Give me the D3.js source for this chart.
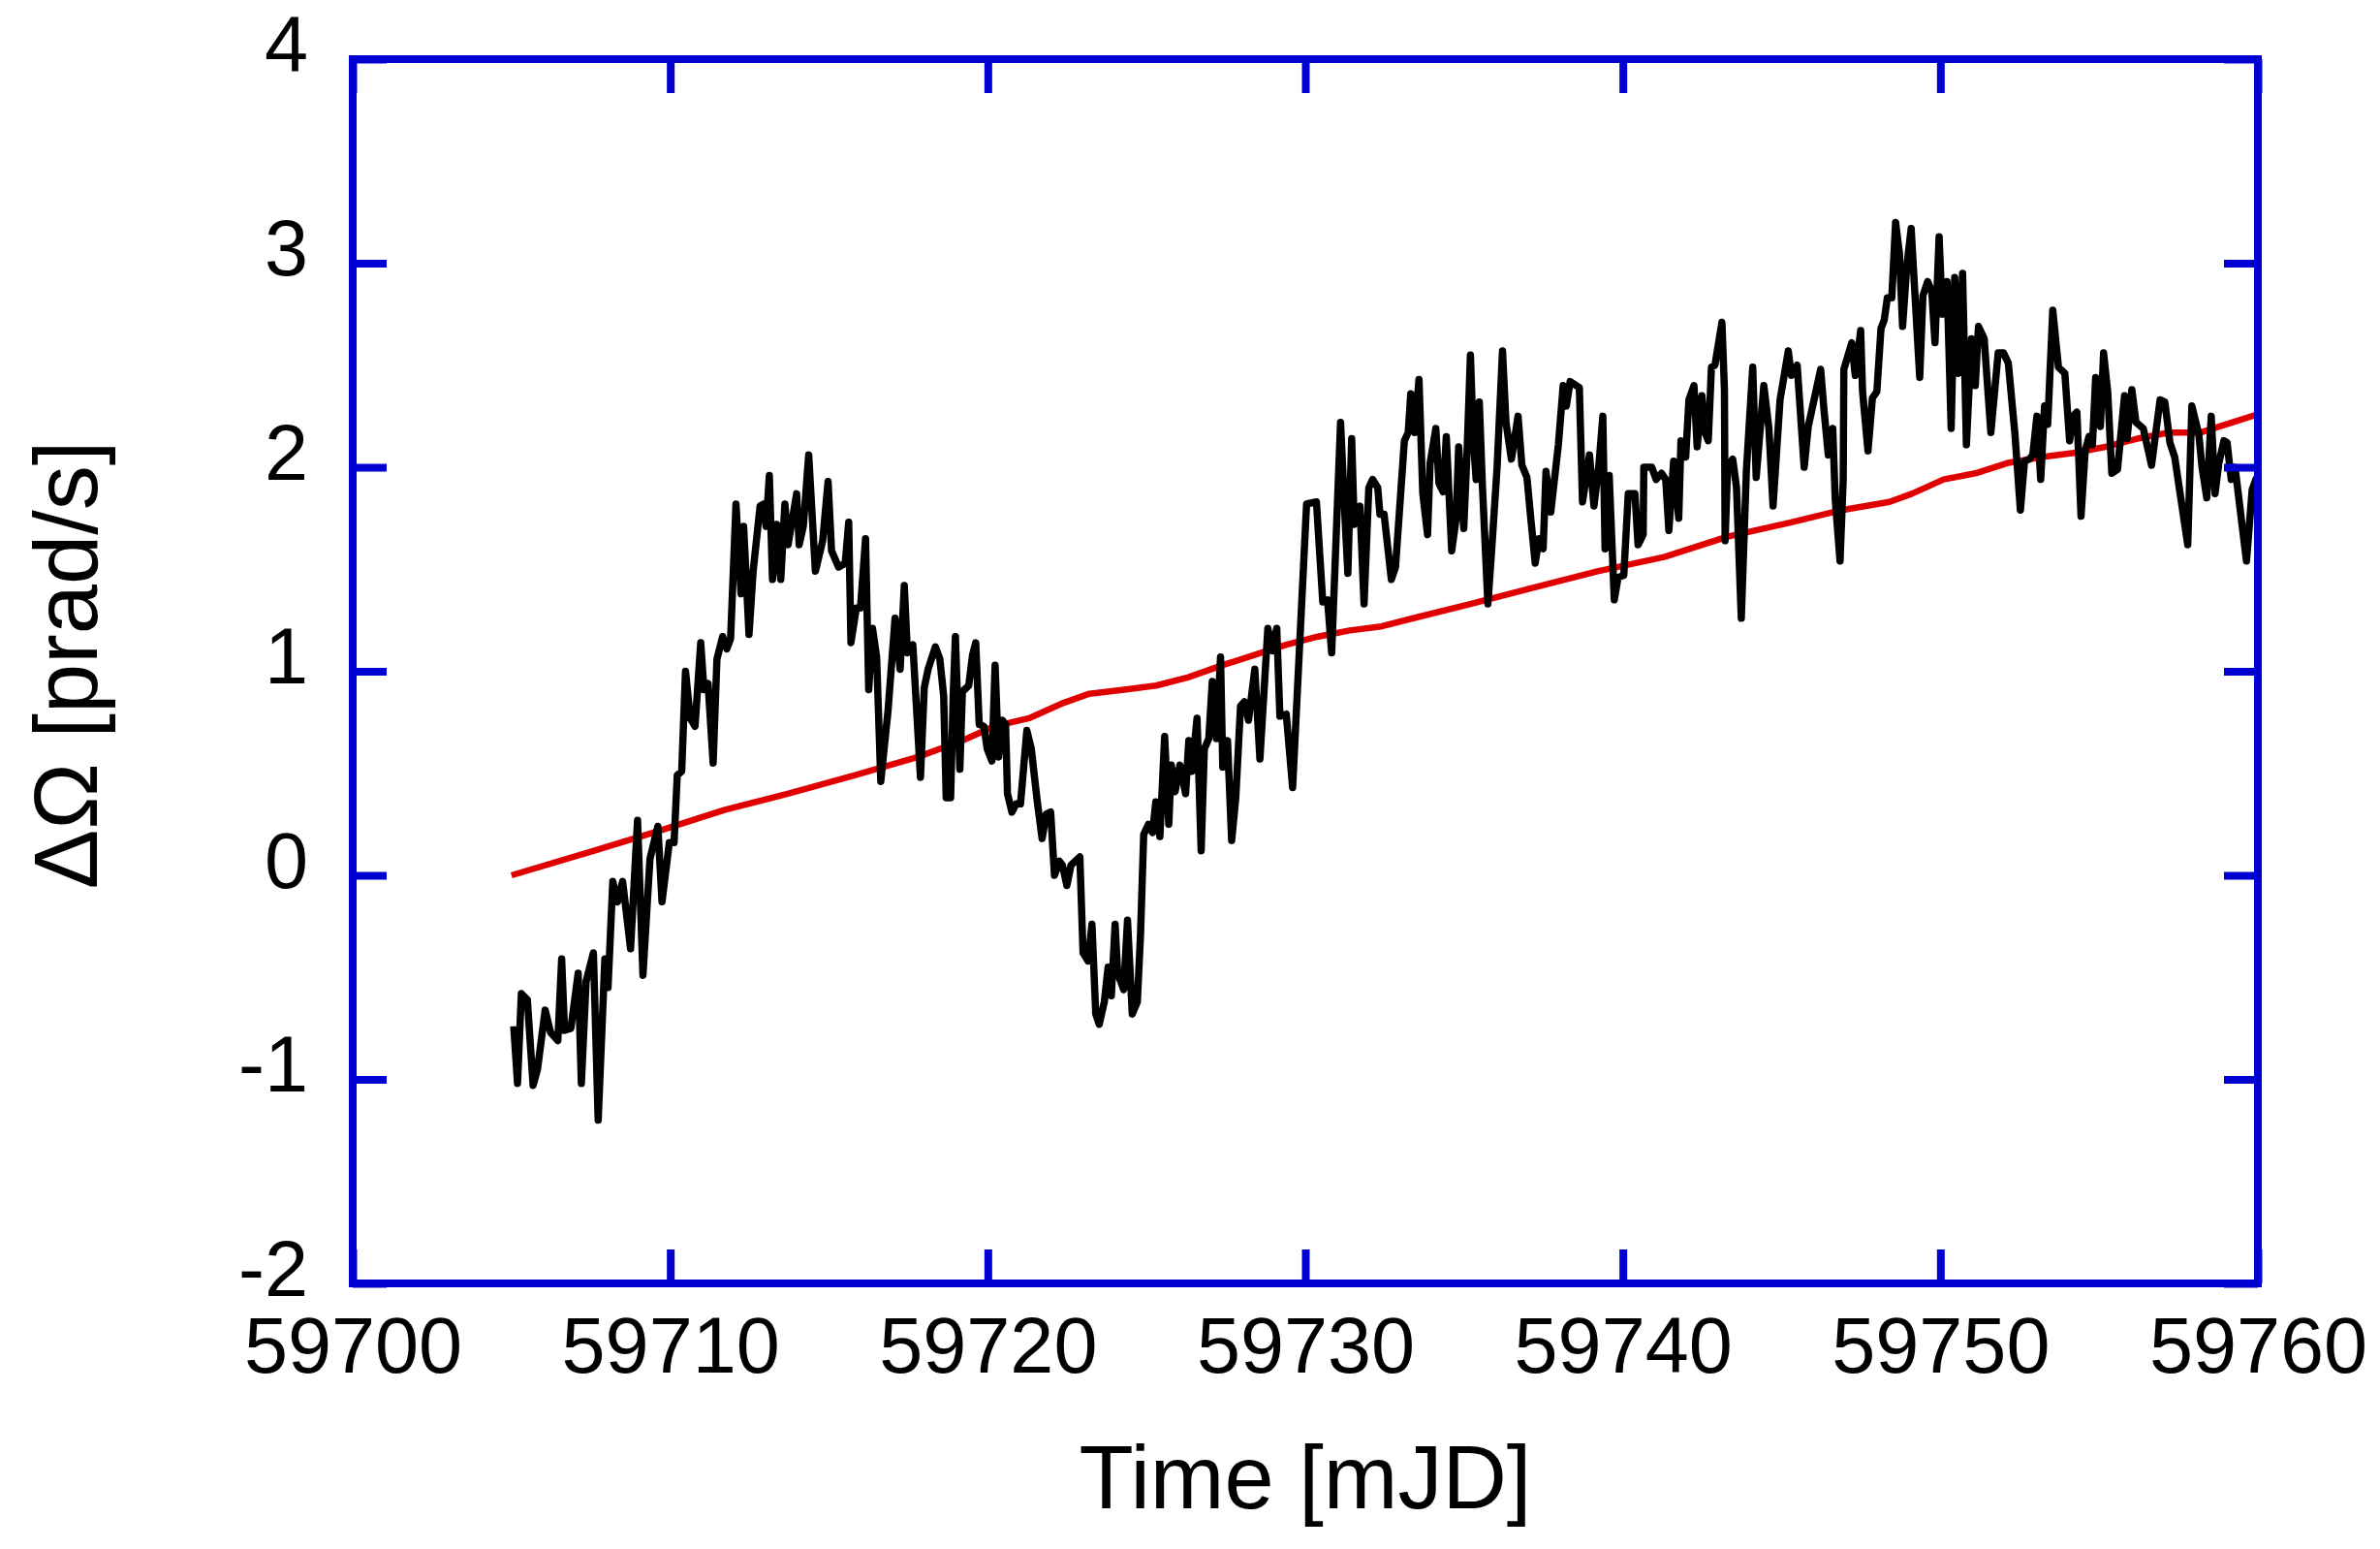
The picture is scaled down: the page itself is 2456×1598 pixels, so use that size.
<!DOCTYPE html>
<html><head><meta charset="utf-8">
<script src="https://cdn.jsdelivr.net/npm/d3@7"></script>
<style>html,body{margin:0;padding:0;background:#fff;overflow:hidden;}</style>
</head><body>
<svg id="chart" width="2456" height="1598"></svg>
<script>
// ---------- data ----------
const blackTime = [
59705.07,59705.19,59705.31,59705.50,59705.68,59705.82,59706.06,59706.23,59706.46,59706.58,59706.67,59706.87,
59707.10,59707.20,59707.35,59707.58,59707.73,59707.94,59708.04,59708.19,59708.34,59708.50,59708.75,59708.97,
59709.14,59709.36,59709.61,59709.74,59709.97,59710.12,59710.22,59710.36,59710.48,59710.63,59710.78,59710.96,
59711.06,59711.19,59711.35,59711.47,59711.65,59711.78,59711.90,59712.07,59712.23,59712.31,59712.48,59712.61,
59712.83,59712.94,59713.02,59713.12,59713.22,59713.35,59713.48,59713.61,59713.71,59713.98,59714.06,59714.19,
59714.36,59714.57,59714.80,59714.97,59715.08,59715.30,59715.51,59715.62,59715.69,59715.86,59715.99,59716.15,
59716.25,59716.37,59716.50,59716.63,59716.86,59717.08,59717.24,59717.37,59717.47,59717.64,59717.88,59718.00,
59718.12,59718.35,59718.49,59718.61,59718.69,59718.83,59718.91,59718.98,59719.12,59719.20,59719.40,59719.52,
59719.62,59719.73,59719.88,59719.98,59720.13,59720.23,59720.34,59720.46,59720.56,59720.62,59720.76,59720.89,
59721.03,59721.23,59721.37,59721.56,59721.71,59721.84,59721.98,59722.10,59722.25,59722.35,59722.49,59722.62,
59722.90,59723.00,59723.16,59723.28,59723.33,59723.40,59723.51,59723.67,59723.79,59723.89,59724.01,59724.09,
59724.28,59724.40,59724.55,59724.71,59724.81,59724.91,59725.06,59725.19,59725.29,59725.42,59725.57,59725.70,
59725.78,59725.90,59726.05,59726.23,59726.33,59726.43,59726.59,59726.72,59726.82,59726.96,59727.07,59727.20,
59727.33,59727.40,59727.55,59727.68,59727.81,59727.96,59728.08,59728.21,59728.41,59728.57,59728.82,59728.97,
59729.10,59729.20,59729.40,59729.60,59730.04,59730.35,59730.55,59730.70,59730.83,59731.11,59731.26,59731.34,
59731.46,59731.54,59731.72,59731.85,59732.00,59732.12,59732.28,59732.35,59732.48,59732.71,59732.84,59733.12,
59733.24,59733.32,59733.44,59733.58,59733.70,59733.85,59733.93,59734.11,59734.21,59734.34,59734.44,59734.61,
59734.75,59734.83,59734.99,59735.09,59735.20,59735.29,59735.38,59735.48,59735.58,59735.75,59735.88,59736.04,
59736.21,59736.32,59736.49,59736.70,59736.82,59736.98,59737.10,59737.24,59737.36,59737.49,59737.58,59737.73,
59737.97,59738.12,59738.22,59738.34,59738.63,59738.73,59738.95,59739.09,59739.24,59739.37,59739.44,59739.57,
59739.73,59739.85,59740.03,59740.17,59740.38,59740.48,59740.64,59740.66,59740.91,59741.05,59741.22,59741.35,
59741.45,59741.60,59741.76,59741.83,59741.98,59742.08,59742.24,59742.34,59742.49,59742.59,59742.69,59742.79,
59742.90,59743.12,59743.20,59743.22,59743.30,59743.46,59743.58,59743.73,59743.89,59744.09,59744.20,59744.44,
59744.60,59744.73,59744.95,59745.21,59745.31,59745.49,59745.71,59745.84,59746.23,59746.33,59746.47,59746.61,
59746.69,59746.84,59746.94,59746.96,59747.21,59747.32,59747.49,59747.55,59747.72,59747.86,59748.00,59748.13,
59748.23,59748.33,59748.47,59748.59,59748.71,59748.81,59748.94,59749.08,59749.15,59749.35,59749.45,59749.60,
59749.73,59749.83,59749.96,59750.06,59750.21,59750.34,59750.45,59750.57,59750.70,59750.82,59750.98,59751.10,
59751.20,59751.38,59751.59,59751.82,59751.99,59752.14,59752.35,59752.52,59752.65,59752.80,59752.91,59753.04,
59753.16,59753.28,59753.38,59753.54,59753.72,59753.92,59754.07,59754.18,59754.30,59754.43,59754.56,59754.68,
59754.79,59754.89,59755.04,59755.14,59755.27,59755.40,59755.58,59755.80,59755.88,59756.03,59756.16,59756.39,
59756.65,59756.92,59757.07,59757.23,59757.38,59757.79,59757.92,59758.14,59758.24,59758.39,59758.53,59758.65,
59758.77,59758.93,59759.03,59759.16,59759.28,59759.64,59759.82,59759.96
];
const blackOmega = [
-0.74,-1.02,-0.58,-0.61,-1.03,-0.95,-0.66,-0.77,-0.81,-0.41,-0.76,-0.75,
-0.48,-1.02,-0.52,-0.38,-1.20,-0.41,-0.55,-0.03,-0.13,-0.03,-0.36,0.27,
-0.49,0.08,0.24,-0.13,0.16,0.16,0.49,0.51,1.00,0.77,0.73,1.14,
0.91,0.94,0.55,1.06,1.17,1.11,1.16,1.82,1.38,1.71,1.18,1.49,
1.81,1.82,1.71,1.96,1.45,1.72,1.45,1.82,1.62,1.87,1.62,1.71,
2.06,1.49,1.64,1.93,1.59,1.51,1.53,1.73,1.14,1.31,1.31,1.65,
0.91,1.21,1.07,0.46,0.81,1.26,1.01,1.42,1.09,1.13,0.48,0.92,
1.01,1.12,1.06,0.88,0.38,0.38,0.88,1.17,0.52,0.90,0.93,1.08,
1.14,0.74,0.73,0.62,0.56,1.03,0.58,0.76,0.74,0.40,0.31,0.35,
0.35,0.71,0.62,0.36,0.18,0.30,0.31,0.00,0.07,0.05,-0.05,0.05,
0.09,-0.38,-0.42,-0.24,-0.42,-0.68,-0.73,-0.62,-0.45,-0.59,-0.24,-0.48,
-0.56,-0.22,-0.68,-0.62,-0.29,0.20,0.25,0.21,0.36,0.19,0.68,0.25,
0.54,0.41,0.54,0.40,0.66,0.51,0.77,0.12,0.62,0.67,0.95,0.67,
1.07,0.53,0.66,0.17,0.38,0.83,0.85,0.76,1.01,0.57,1.21,1.10,
1.21,0.78,0.79,0.43,1.82,1.83,1.34,1.35,1.09,2.22,1.72,1.48,
2.14,1.72,1.81,1.33,1.90,1.94,1.90,1.77,1.77,1.45,1.51,2.13,
2.17,2.36,2.17,2.43,1.87,1.67,2.02,2.19,1.92,1.88,2.15,1.59,
1.75,2.10,1.70,2.06,2.55,2.14,1.94,2.32,1.90,1.33,1.62,2.00,
2.57,2.22,2.04,2.25,2.01,1.95,1.75,1.53,1.65,1.60,1.98,1.78,
2.11,2.40,2.30,2.42,2.39,1.83,2.06,1.81,2.00,2.25,1.60,1.96,
1.35,1.46,1.47,1.87,1.87,1.62,1.67,2.00,2.00,1.94,1.97,1.94,
1.69,2.03,1.75,2.13,2.05,2.33,2.40,2.10,2.35,2.17,2.13,2.49,
2.50,2.71,2.38,1.64,2.00,2.04,1.90,1.26,1.98,2.49,1.95,2.40,
2.19,1.81,2.33,2.57,2.45,2.50,2.00,2.20,2.48,2.29,2.06,2.19,
1.84,1.54,1.94,2.48,2.61,2.45,2.67,2.37,2.08,2.34,2.37,2.68,
2.72,2.83,2.83,3.20,3.05,2.69,2.98,3.17,2.98,2.44,2.84,2.91,
2.86,2.61,3.13,2.75,2.91,2.19,2.93,2.46,2.95,2.11,2.63,2.40,
2.69,2.63,2.17,2.56,2.56,2.51,2.16,1.79,2.03,2.04,2.06,2.25,
1.94,2.30,2.21,2.77,2.49,2.46,2.13,2.25,2.27,1.76,2.08,2.15,
2.11,2.44,2.20,2.56,2.37,1.97,1.99,2.35,2.14,2.38,2.22,2.19,
2.01,2.33,2.32,2.12,2.05,1.62,2.30,2.16,2.00,1.85,2.25,1.87,
2.02,2.13,2.12,1.94,2.00,1.54,1.89,1.95
];
const fitTime = [59705.0,59707.6,59709.7,59711.7,59713.7,59715.8,59717.8,59719.2,59720.2,59721.3,59722.3,59723.2,
59724.3,59725.3,59726.3,59727.4,59728.4,59729.4,59730.4,59731.4,59732.4,59733.4,59735.2,59737.2,59739.2,59741.3,
59743.3,59745.3,59746.9,59748.4,59749.1,59750.1,59751.1,59752.1,59753.2,59754.2,59755.2,59756.2,59757.2,59758.2,
59758.8,59760.0];
const fitOmega = [0.00,0.12,0.22,0.32,0.40,0.49,0.58,0.66,0.73,0.77,0.84,0.89,
0.91,0.93,0.97,1.03,1.08,1.13,1.17,1.20,1.22,1.26,1.33,1.41,1.49,1.56,
1.66,1.73,1.79,1.83,1.87,1.94,1.97,2.02,2.05,2.07,2.10,2.14,2.17,2.17,
2.20,2.26];
const xTicks = [59700,59710,59720,59730,59740,59750,59760];
const yTicks = [-2,-1,0,1,2,3,4];
const xLabel = "Time [mJD]";
const yLabel = "ΔΩ [prad/s]";

// ---------- drawing ----------
const FONT = "'Liberation Sans', Arial, Helvetica, sans-serif";
const frameColor = "#0000d2";
const plot = {left:364, right:2330, top:61, bottom:1324};
const svg = d3.select("#chart");
svg.append("rect").attr("width",2456).attr("height",1598).attr("fill","#fff");

const x = d3.scaleLinear().domain([59700,59760]).range([plot.left, plot.right]);
const y = d3.scaleLinear().domain([-2,4]).range([plot.bottom, plot.top]);

svg.append("clipPath").attr("id","clip").append("rect")
  .attr("x",plot.left).attr("y",plot.top)
  .attr("width",plot.right-plot.left).attr("height",plot.bottom-plot.top);

const g = svg.append("g").attr("clip-path","url(#clip)");
const fitData = fitTime.map((t,i)=>[t,fitOmega[i]]);
const blackData = blackTime.map((t,i)=>[t,blackOmega[i]]);
const line = d3.line().x(d=>x(d[0])).y(d=>y(d[1]));

g.append("path").datum(fitData).attr("d",line)
  .attr("fill","none").attr("stroke","#e00000").attr("stroke-width",6.5)
  .attr("stroke-linejoin","round").attr("stroke-linecap","butt");
g.append("path").datum(blackData).attr("d",line)
  .attr("fill","none").attr("stroke","#000").attr("stroke-width",7.5)
  .attr("stroke-linejoin","round").attr("stroke-linecap","butt");

const T = 35;
const plain = d => String(d);   // hyphen-minus as in the original
function styleAxis(sel){
  sel.select(".domain").remove();
  sel.selectAll(".tick line").attr("stroke",frameColor).attr("stroke-width",8);
  sel.selectAll(".tick text").attr("fill","#000").style("font-family",FONT).style("font-size","81px");
}
const axB = svg.append("g").attr("transform",`translate(0,${plot.bottom})`)
  .call(d3.axisBottom(x).tickValues(xTicks).tickSize(-T).tickFormat(plain));
styleAxis(axB);
axB.selectAll(".tick text").attr("dy",null).attr("y",92);

const axT = svg.append("g").attr("transform",`translate(0,${plot.top})`)
  .call(d3.axisTop(x).tickValues(xTicks).tickSize(-T).tickFormat(""));
styleAxis(axT);

const axL = svg.append("g").attr("transform",`translate(${plot.left},0)`)
  .call(d3.axisLeft(y).tickValues(yTicks).tickSize(-T).tickFormat(plain));
styleAxis(axL);
axL.selectAll(".tick text").attr("dy",null).attr("x",-46).attr("y",12).attr("text-anchor","end");

const axR = svg.append("g").attr("transform",`translate(${plot.right},0)`)
  .call(d3.axisRight(y).tickValues(yTicks).tickSize(-T).tickFormat(""));
styleAxis(axR);

svg.append("rect").attr("x",plot.left).attr("y",plot.top)
  .attr("width",plot.right-plot.left).attr("height",plot.bottom-plot.top)
  .attr("fill","none").attr("stroke",frameColor).attr("stroke-width",8);

svg.append("text").attr("x",(plot.left+plot.right)/2).attr("y",1556)
  .attr("text-anchor","middle").style("font-family",FONT).style("font-size","92px")
  .attr("fill","#000").text(xLabel);
svg.append("text").attr("transform","translate(100,686) rotate(-90)")
  .attr("text-anchor","middle").style("font-family",FONT).style("font-size","92px")
  .attr("fill","#000").text(yLabel);
</script>
</body></html>
